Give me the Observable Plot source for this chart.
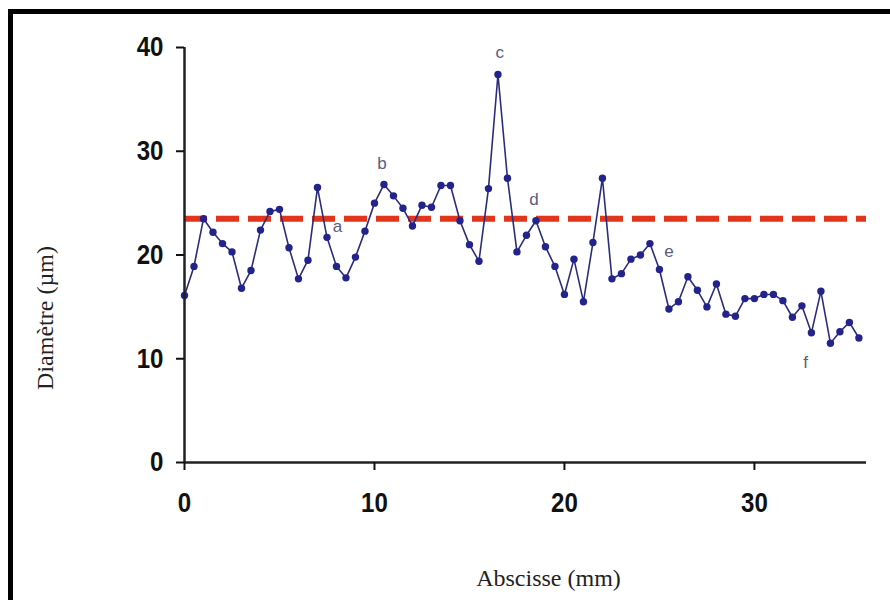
<!DOCTYPE html>
<html>
<head>
<meta charset="utf-8">
<script src="https://cdn.jsdelivr.net/npm/d3@7"></script>
<script src="https://cdn.jsdelivr.net/npm/@observablehq/plot@0.6"></script>
<style>
  html, body { margin: 0; padding: 0; background: #fff; }
  #wrap { position: relative; width: 890px; height: 600px; overflow: hidden; }
  #box { position: absolute; left: 8px; top: 9px; width: 1000px; height: 1000px;
         border-top: 5px solid #000; border-left: 5px solid #000; box-sizing: border-box; }
  #chart { position: absolute; left: 0; top: 0; }
</style>
</head>
<body>
<div id="wrap"><div id="box"></div><div id="chart"></div></div>
<script>
// Abscisse (mm)
const abscisse = [0, 0.5, 1, 1.5, 2, 2.5, 3, 3.5, 4, 4.5, 5, 5.5, 6, 6.5, 7, 7.5, 8, 8.5, 9, 9.5,
  10, 10.5, 11, 11.5, 12, 12.5, 13, 13.5, 14, 14.5, 15, 15.5, 16, 16.5, 17, 17.5, 18, 18.5, 19, 19.5,
  20, 20.5, 21, 21.5, 22, 22.5, 23, 23.5, 24, 24.5, 25, 25.5, 26, 26.5, 27, 27.5, 28, 28.5, 29, 29.5,
  30, 30.5, 31, 31.5, 32, 32.5, 33, 33.5, 34, 34.5, 35, 35.5];
// Diamètre (µm)
const diametre = [16.1, 18.9, 23.5, 22.2, 21.1, 20.3, 16.8, 18.5, 22.4, 24.2, 24.4, 20.7, 17.7, 19.5, 26.5, 21.7, 18.9, 17.8, 19.8, 22.3,
  25.0, 26.8, 25.7, 24.5, 22.8, 24.8, 24.6, 26.7, 26.7, 23.3, 21.0, 19.4, 26.4, 37.4, 27.4, 20.3, 21.9, 23.3, 20.8, 18.9,
  16.2, 19.6, 15.5, 21.2, 27.4, 17.7, 18.2, 19.6, 20.0, 21.1, 18.6, 14.8, 15.5, 17.9, 16.6, 15.0, 17.2, 14.3, 14.1, 15.8,
  15.8, 16.2, 16.2, 15.6, 14.0, 15.1, 12.5, 16.5, 11.5, 12.6, 13.5, 12.0];
const seuil = [23.5];
const lettres = ["a", "b", "c", "d", "e", "f"];
const lettreX = [8.05, 10.4, 16.6, 18.4, 25.5, 32.7];
const lettreY = [22.7, 28.8, 39.5, 25.3, 20.3, 9.6];
const xTicks = [0, 10, 20, 30];
const yTicks = [0, 10, 20, 30, 40];

const points = abscisse.map((x, i) => ({x, y: diametre[i]}));
const labels = lettres.map((t, i) => ({t, x: lettreX[i], y: lettreY[i]}));

const tickFont = "'Liberation Sans', Arial, sans-serif";
const serif = "'Liberation Serif', 'Times New Roman', serif";

const chart = Plot.plot({
  width: 890,
  height: 600,
  marginLeft: 184,
  marginRight: 24,
  marginTop: 47,
  marginBottom: 138,
  x: {domain: [0, 35.9]},
  y: {domain: [0, 40]},
  style: {background: "transparent", color: "#111", overflow: "visible"},
  marks: [
    Plot.ruleY(seuil, {stroke: "#e2361c", strokeWidth: 6, strokeDasharray: "23,9"}),
    Plot.line(points, {x: "x", y: "y", stroke: "#2c2c7c", strokeWidth: 1.6}),
    Plot.dot(points, {x: "x", y: "y", r: 3.7, fill: "#23238c", stroke: "none"}),
    Plot.text(labels, {x: "x", y: "y", text: "t", fontSize: 17, fill: "#5b5b80", fontFamily: "'Liberation Sans', Arial, sans-serif"}),
    Plot.ruleY([0], {stroke: "#222", strokeWidth: 2.5}),
    Plot.ruleX([0], {stroke: "#222", strokeWidth: 2.5}),
    Plot.axisX({ticks: xTicks, tickSize: 8, tickPadding: 22, fontSize: 28, fontWeight: "bold",
      fontFamily: tickFont, strokeWidth: 2, label: null}),
    Plot.axisY({ticks: yTicks, tickSize: 8, tickPadding: 13, fontSize: 28, fontWeight: "bold",
      fontFamily: tickFont, strokeWidth: 2, label: null}),
    Plot.text(["Abscisse (mm)"], {frameAnchor: "bottom", dx: 23, dy: 116, lineAnchor: "middle",
      fontFamily: serif, fontSize: 24, fill: "#222"}),
    Plot.text(["Diamètre (µm)"], {frameAnchor: "left", rotate: -90, dx: -139, dy: 63, lineAnchor: "middle",
      textAnchor: "middle", fontFamily: serif, fontSize: 24, fill: "#222"})
  ]
});
// condense the bold tick labels horizontally, like the reference
d3.select(chart).selectAll("text").each(function() {
  if (this.getAttribute("font-weight") !== "bold" && !(this.parentNode && this.parentNode.getAttribute("font-weight") === "bold")) return;
  const t = this.getAttribute("transform") || "";
  this.setAttribute("transform", (t + " scale(0.86,1)").trim());
});
document.getElementById("chart").appendChild(chart);
</script>
</body>
</html>
